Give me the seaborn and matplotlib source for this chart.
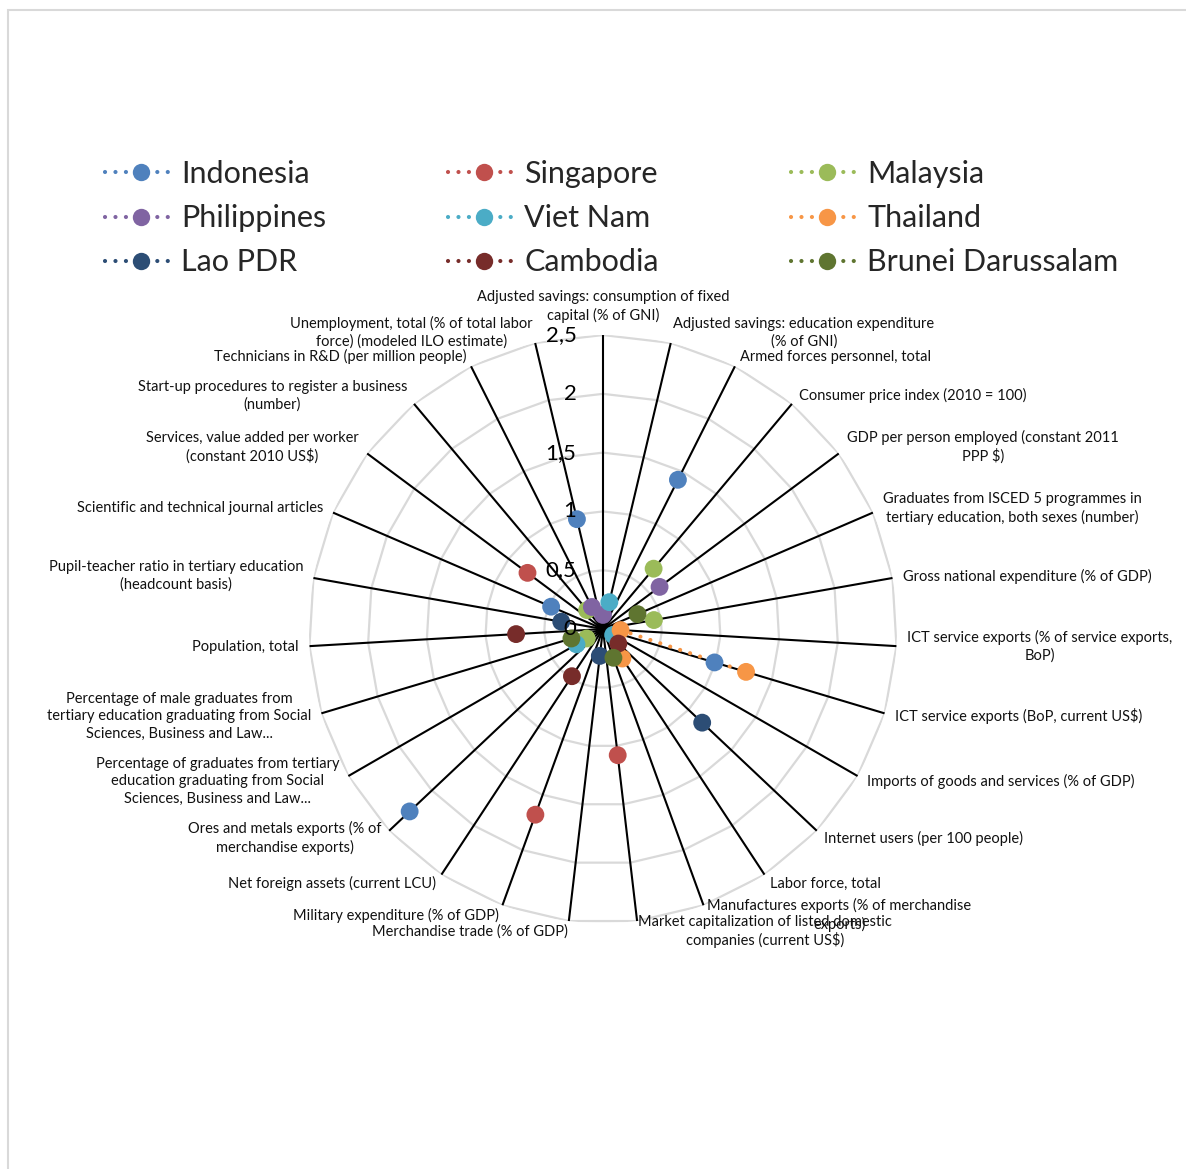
import numpy as np
import pandas as pd
import matplotlib
matplotlib.use("Agg")
import matplotlib.pyplot as plt
import seaborn as sns
from matplotlib.lines import Line2D
from matplotlib.patches import Rectangle

# ---------- data ----------
categories = [
    "Adjusted savings: consumption of fixed\ncapital (% of GNI)",
    "Adjusted savings: education expenditure\n(% of GNI)",
    "Armed forces personnel, total",
    "Consumer price index (2010 = 100)",
    "GDP per person employed (constant 2011\nPPP $)",
    "Graduates from ISCED 5 programmes in\ntertiary education, both sexes (number)",
    "Gross national expenditure (% of GDP)",
    "ICT service exports (% of service exports,\nBoP)",
    "ICT service exports (BoP, current US$)",
    "Imports of goods and services (% of GDP)",
    "Internet users (per 100 people)",
    "Labor force, total",
    "Manufactures exports (% of merchandise\nexports)",
    "Market capitalization of listed domestic\ncompanies (current US$)",
    "Merchandise trade (% of GDP)",
    "Military expenditure (% of GDP)",
    "Net foreign assets (current LCU)",
    "Ores and metals exports (% of\nmerchandise exports)",
    "Percentage of graduates from tertiary\neducation graduating from Social\nSciences, Business and Law...",
    "Percentage of male graduates from\ntertiary education graduating from Social\nSciences, Business and Law...",
    "Population, total",
    "Pupil-teacher ratio in tertiary education\n(headcount basis)",
    "Scientific and technical journal articles",
    "Services, value added per worker\n(constant 2010 US$)",
    "Start-up procedures to register a business\n(number)",
    "Technicians in R&D (per million people)",
    "Unemployment, total (% of total labor\nforce) (modeled ILO estimate)",
]

countries = ["Indonesia", "Singapore", "Malaysia", "Philippines", "Viet Nam",
             "Thailand", "Lao PDR", "Cambodia", "Brunei Darussalam"]
colors = ["#4F81BD", "#C0504D", "#9BBB59", "#8064A2", "#4BACC6",
          "#F79646", "#2C4D75", "#772C2A", "#5F7530"]

nan = np.nan
# values per category (0..26), missing = nan
indonesia   = [nan, nan, 1.42, nan, nan, nan, nan, nan, 0.99, nan, nan, nan, nan, nan,
               nan, nan, nan, 2.26, nan, nan, nan, nan, 0.48, nan, nan, nan, 0.96]
singapore   = [nan, nan, nan, nan, nan, nan, nan, nan, nan, nan, nan, nan, nan, 1.08,
               nan, 1.68, nan, nan, nan, nan, nan, nan, nan, 0.80, nan, nan, nan]
malaysia    = [nan, nan, nan, 0.67, nan, nan, 0.44, nan, nan, nan, nan, nan, nan, nan,
               nan, nan, nan, nan, 0.16, nan, nan, nan, nan, nan, 0.21, nan, nan]
philippines = [0.12, nan, nan, nan, 0.60, nan, nan, nan, nan, nan, nan, nan, nan, nan,
               nan, nan, nan, nan, nan, nan, nan, nan, nan, nan, nan, 0.21, nan]
viet_nam    = [nan, 0.235, nan, nan, nan, nan, nan, nan, nan, 0.10, nan, nan, nan, nan,
               nan, nan, nan, nan, 0.26, nan, nan, nan, nan, nan, nan, nan, nan]
thailand    = [nan, nan, nan, nan, nan, nan, nan, 0.15, 1.27, nan, nan, 0.30, nan, nan,
               nan, nan, nan, nan, nan, nan, nan, nan, nan, nan, nan, nan, nan]
lao_pdr     = [nan, nan, nan, nan, nan, nan, nan, nan, nan, nan, 1.16, nan, nan, nan,
               0.23, nan, nan, nan, nan, nan, nan, 0.36, nan, nan, nan, nan, nan]
cambodia    = [nan, nan, nan, nan, nan, nan, nan, nan, nan, nan, 0.18, nan, nan, nan,
               nan, nan, 0.48, nan, nan, nan, 0.74, nan, nan, nan, nan, nan, nan]
brunei      = [nan, nan, nan, nan, nan, 0.32, nan, nan, nan, nan, nan, nan, 0.26, nan,
               nan, nan, nan, nan, nan, 0.28, nan, nan, nan, nan, nan, nan, nan]

series = [indonesia, singapore, malaysia, philippines, viet_nam,
          thailand, lao_pdr, cambodia, brunei]

tick_values = [0, 0.5, 1, 1.5, 2, 2.5]
tick_labels = ["0", "0,5", "1", "1,5", "2", "2,5"]

# ---------- figure ----------
sns.set_style("white")
plt.rcParams['font.family'] = ['Lato', 'DejaVu Sans']

n = len(categories)
theta = np.arange(n) * 2 * np.pi / n
rmax = 2.5
dotted = (0, (0.01, 2.5))

fig = plt.figure(figsize=(11.86, 11.69), dpi=100)
# chart-area border (only left and top edges fall inside the picture)
fig.patches.append(Rectangle((8 / 1186, -0.05), 1.1, 1 - 10 / 1169 + 0.05,
                             transform=fig.transFigure, fill=False,
                             edgecolor="#D9D9D9", linewidth=1.5))

ax = fig.add_axes([0.2605, 0.2104, 0.4958, 0.503], projection="polar")
ax.set_theta_zero_location("N")
ax.set_theta_direction(-1)
ax.set_ylim(0, rmax)
ax.grid(False)
ax.spines["polar"].set_visible(False)
ax.set_xticks([])
ax.set_yticks([])
ax.set_facecolor("none")

theta_closed = np.append(theta, theta[0])

# polygon gridlines
for v in tick_values[1:]:
    ax.plot(theta_closed, np.full(n + 1, v), color="#D9D9D9", lw=1.6, zorder=1)

# spokes
for t in theta:
    ax.plot([t, t], [0, rmax], color="black", lw=1.5, zorder=2)

# dotted series lines (gaps break the line)
for vals, c in zip(series, colors):
    vals_closed = np.append(vals, vals[0])
    ax.plot(theta_closed, vals_closed, color=c, lw=3,
            linestyle=dotted, dash_capstyle="round", zorder=3)

# markers
long_df = pd.DataFrame({
    "country": np.repeat(countries, n),
    "theta": np.tile(theta, len(countries)),
    "value": np.concatenate(series),
}).dropna()
sns.scatterplot(data=long_df, x="theta", y="value", hue="country",
                hue_order=countries, palette=colors, s=165, linewidth=0,
                legend=False, ax=ax, zorder=4)
ax.set_xlabel("")
ax.set_ylabel("")
ax.set_ylim(0, rmax)

# value tick labels
for v, lab in zip(tick_values, tick_labels):
    ax.annotate(lab, xy=(0, v), xytext=(-19, 0), textcoords="offset points",
                ha="right", va="center", fontsize=16, color="black", zorder=5)

# category labels
gap = 7.6
for t, lab in zip(theta, categories):
    s, c = np.sin(t), np.cos(t)
    if abs(s) < 0.1:
        ha, va, off = "center", "bottom", (0, 8.6)
    else:
        ha = "left" if s > 0 else "right"
        va, off = "center", (gap * s, gap * c)
    ax.annotate(lab, xy=(t, rmax), xytext=off,
                textcoords="offset points", ha=ha, va=va,
                multialignment="center", linespacing=1.3,
                fontsize=10.5, color="#111111", annotation_clip=False)

# legend: three columns, each its own legend
handles = [Line2D([0], [0], color=c, lw=3, linestyle=dotted,
                  dash_capstyle="round", marker="o", markersize=12.5,
                  markeredgewidth=0) for c in colors]
col_x = [105, 448, 791]
for k, x in enumerate(col_x):
    idx = [k, k + 3, k + 6]
    leg = fig.legend([handles[i] for i in idx], [countries[i] for i in idx],
                     loc="upper left", bbox_to_anchor=(x / 1186, 1 - 160 / 1169),
                     ncol=1, frameon=False, fontsize=22, handlelength=2.35,
                     handletextpad=0.15, labelspacing=0.53,
                     borderpad=0, borderaxespad=0)

fig.savefig("out.png", dpi=100, facecolor="white")
